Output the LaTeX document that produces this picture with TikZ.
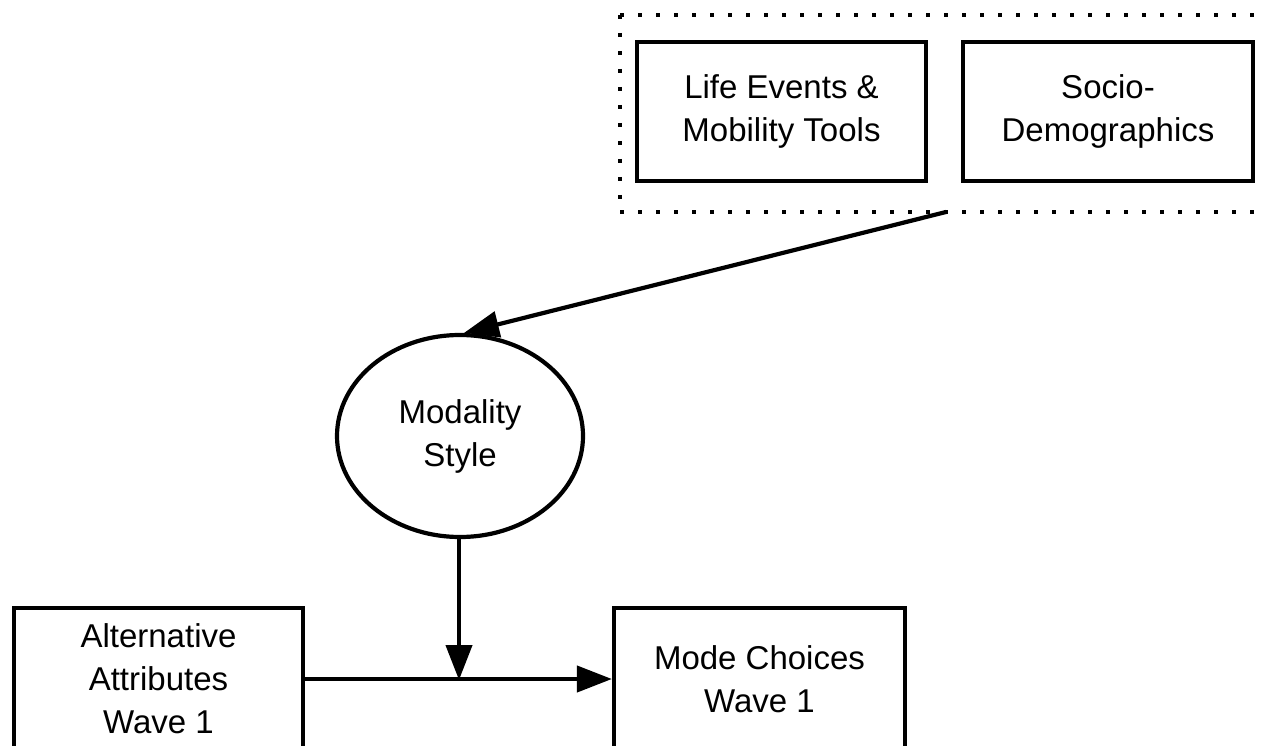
\documentclass[tikz,border=0pt]{standalone}
\usepackage{fontspec}
\setmainfont{Liberation Sans}
\usetikzlibrary{arrows.meta,shapes.geometric}
\tikzset{
  block/.style={draw, line width=4.2pt, align=center, inner sep=0pt,
    font=\fontsize{33}{43}\selectfont},
  oval/.style={ellipse, draw, line width=4.2pt, align=center, inner sep=0pt,
    font=\fontsize{33}{43}\selectfont},
  link/.style={line width=4.2pt, -{Triangle[length=35pt,width=26pt]}},
  dotframe/.style={line width=4.2pt, dash pattern=on 4pt off 14pt}
}
\begin{document}
\begin{tikzpicture}[x=1pt,y=-1pt]
  \useasboundingbox (0,0) rectangle (1263,746);
  \clip (0,0) rectangle (1263,746);

  % group frame around the background factors
  \draw[dotframe] (620,15) -- (1300,15);
  \draw[dotframe] (620,212) -- (1300,212);
  \draw[dotframe] (620,15) -- (620,212);
  \coordinate (grp) at (946,212);

  \node[block, minimum width=289pt, minimum height=139pt] (life) at (781.5,111.5)
    {Life Events \&\\Mobility Tools};
  \node[block, minimum width=290pt, minimum height=139pt] (socio) at (1108,111.5)
    {Socio-\\Demographics};

  \node[oval, minimum width=246pt, minimum height=202pt] (ms) at (460,436)
    {Modality\\Style};

  \node[block, minimum width=289pt, minimum height=142pt] (alt) at (158.5,679)
    {Alternative\\Attributes\\Wave 1};
  \node[block, minimum width=291pt, minimum height=142pt] (mode) at (759.5,679)
    {Mode Choices\\Wave 1};

  \coordinate (join) at (459,680);

  \draw[link] (grp) -- ([xshift=4pt]ms.north);
  \draw[link] (ms.south -| join) -- (join);
  \draw[link] (alt.east) -- (mode.west);
\end{tikzpicture}
\end{document}
